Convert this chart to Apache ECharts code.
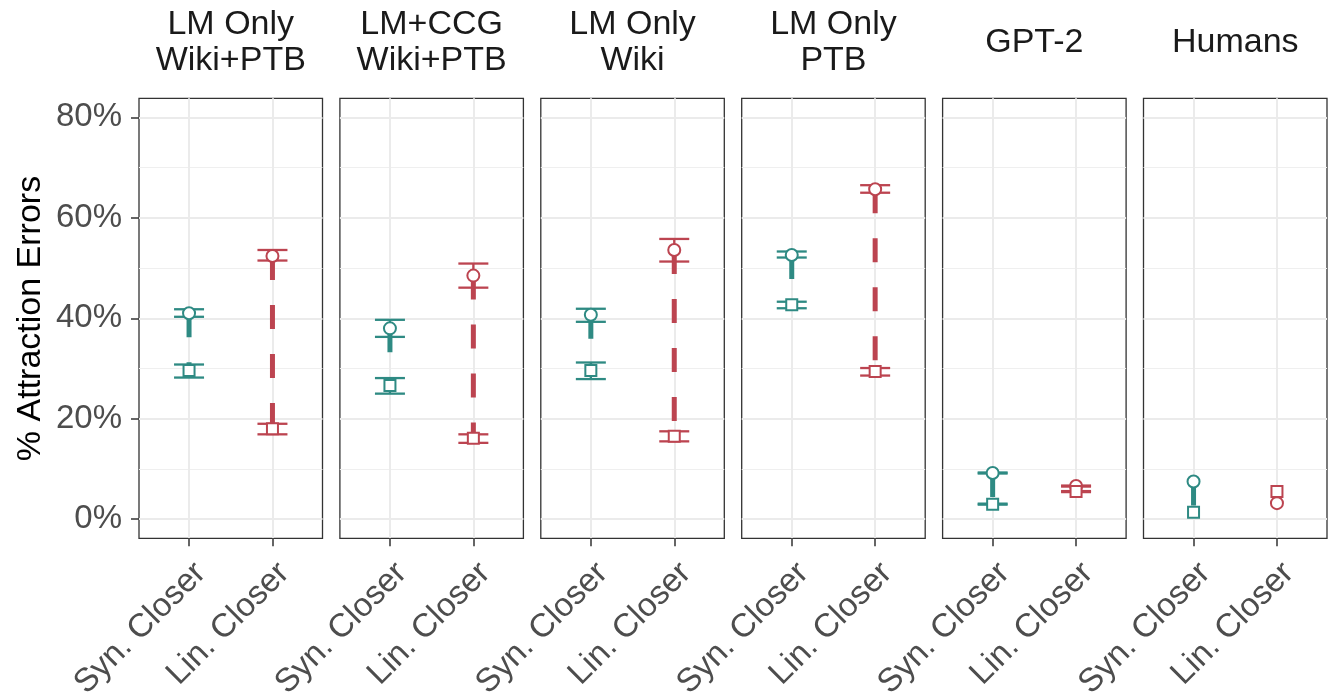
<!DOCTYPE html>
<html><head><meta charset="utf-8">
<script src="https://cdn.jsdelivr.net/npm/echarts@6/dist/echarts.min.js"></script>
<style>html,body{margin:0;padding:0;background:#fff}#c{width:1336px;height:698px}</style>
</head><body><div id="c"></div>
<script>
// ---- data ----
const facets = ['LM Only\nWiki+PTB', 'LM+CCG\nWiki+PTB', 'LM Only\nWiki', 'LM Only\nPTB', 'GPT-2', 'Humans'];
const categories = ['Syn. Closer', 'Lin. Closer'];
const yTicks = [0, 20, 40, 60, 80];
const yMinorTicks = [10, 30, 50, 70];
// Syn. Closer
const synCircle   = [41.0, 38.0, 40.7, 52.6, 9.2, 7.5];
const synCircleLo = [40.3, 36.3, 39.3, 52.1, 9.1, null];
const synCircleHi = [41.8, 39.7, 41.9, 53.3, 9.3, null];
const synSquare   = [29.6, 26.6, 29.6, 42.7, 3.0, 1.4];
const synSquareLo = [28.2, 25.0, 27.9, 42.0, 2.9, null];
const synSquareHi = [30.8, 28.1, 31.2, 43.3, 3.1, null];
// Lin. Closer
const linCircle   = [52.4, 48.5, 53.6, 65.7, 6.6, 3.2];
const linCircleLo = [51.5, 46.1, 51.3, 65.0, 6.5, null];
const linCircleHi = [53.6, 50.9, 55.8, 66.5, 6.7, null];
const linSquare   = [18.0, 16.1, 16.5, 29.4, 5.5, 5.5];
const linSquareLo = [16.9, 15.2, 15.5, 28.6, 5.4, null];
const linSquareHi = [19.0, 16.9, 17.5, 30.1, 5.6, null];

// ---- style ----
const COLORS = ['#2e8a83', '#bc4450'];
const FONT = '"Liberation Sans", Arial, sans-serif';
const PANEL_LEFT0 = 139, PANEL_PITCH = 200.9, PANEL_W = 183.5, PANEL_TOP = 98.3, PANEL_H = 440;
const Y_MIN = -3.8, Y_MAX = 83.8;

const grids = [], xAxes = [], yAxes = [], series = [], graphics = [];

function renderErr(params, api) {
  const x = api.value(0), lo = api.value(1), hi = api.value(2), ci = api.value(3);
  const pLo = api.coord([x, lo]), pHi = api.coord([x, hi]);
  const hw = 15;
  const style = { stroke: COLORS[ci], lineWidth: 2.3, fill: null };
  return { type: 'group', children: [
    { type: 'line', shape: { x1: pLo[0], y1: pLo[1], x2: pHi[0], y2: pHi[1] }, style: style },
    { type: 'line', shape: { x1: pLo[0] - hw, y1: pLo[1], x2: pLo[0] + hw, y2: pLo[1] }, style: style },
    { type: 'line', shape: { x1: pHi[0] - hw, y1: pHi[1], x2: pHi[0] + hw, y2: pHi[1] }, style: style }
  ]};
}

facets.forEach(function (name, i) {
  const left = PANEL_LEFT0 + i * PANEL_PITCH;
  grids.push({ left: left, top: PANEL_TOP, width: PANEL_W, height: PANEL_H, show: true,
    borderColor: '#333333', borderWidth: 1.3, backgroundColor: 'transparent',
    containLabel: false, outerBoundsMode: 'none' });
  xAxes.push({ type: 'value', gridIndex: i, min: 0.4, max: 2.6, position: 'bottom',
    axisLine: { show: false, onZero: false },
    axisTick: { show: true, length: 8, customValues: [1, 2], lineStyle: { color: '#333333', width: 1.5 } },
    axisLabel: { show: true, customValues: [1, 2], rotate: 45, align: 'right', verticalAlign: 'top', margin: 18,
      formatter: function (v) { return categories[Math.round(v) - 1]; },
      color: '#4d4d4d', fontSize: 33, fontFamily: FONT },
    splitLine: { show: true, lineStyle: { color: '#ebebeb', width: 2 } }
  });
  // major y axis
  yAxes.push({ type: 'value', gridIndex: i, min: Y_MIN, max: Y_MAX, position: 'left',
    axisLine: { show: false, onZero: false },
    axisTick: { show: i === 0, length: 8, customValues: yTicks, lineStyle: { color: '#333333', width: 1.5 } },
    axisLabel: { show: i === 0, customValues: yTicks, margin: 17, formatter: function (v) { return v + '%'; },
      color: '#4d4d4d', fontSize: 33, fontFamily: FONT },
    splitLine: { show: true, lineStyle: { color: '#ebebeb', width: 2 } }
  });
  // minor y axis (grid lines only)
  yAxes.push({ type: 'value', gridIndex: i, min: Y_MIN, max: Y_MAX, position: 'left',
    axisLine: { show: false, onZero: false },
    axisTick: { show: false, customValues: yMinorTicks },
    axisLabel: { show: false, customValues: yMinorTicks },
    splitLine: { show: true, lineStyle: { color: '#efefef', width: 1.2 } }
  });
  const yi = i * 2;

  const circles = [synCircle[i], linCircle[i]];
  const squares = [synSquare[i], linSquare[i]];
  const cLo = [synCircleLo[i], linCircleLo[i]], cHi = [synCircleHi[i], linCircleHi[i]];
  const sLo = [synSquareLo[i], linSquareLo[i]], sHi = [synSquareHi[i], linSquareHi[i]];

  // connecting dashed lines
  [0, 1].forEach(function (c) {
    series.push({ type: 'line', xAxisIndex: i, yAxisIndex: yi, z: 1, silent: true,
      symbol: 'none', animation: false,
      data: [[c + 1, circles[c]], [c + 1, squares[c]]],
      lineStyle: { color: COLORS[c], width: 5, type: [24, 25], cap: 'butt' } });
  });
  // error bars
  const errData = [];
  [0, 1].forEach(function (c) {
    if (cLo[c] != null) errData.push([c + 1, cLo[c], cHi[c], c]);
    if (sLo[c] != null) errData.push([c + 1, sLo[c], sHi[c], c]);
  });
  series.push({ type: 'custom', xAxisIndex: i, yAxisIndex: yi, z: 2, silent: true, animation: false,
    renderItem: renderErr, encode: { x: 0, y: [1, 2] }, data: errData });
  // circles
  series.push({ type: 'scatter', xAxisIndex: i, yAxisIndex: yi, z: 3, silent: true, animation: false,
    symbol: 'circle', symbolSize: 12,
    data: [0, 1].map(function (c) { return { value: [c + 1, circles[c]], itemStyle: { borderColor: COLORS[c] } }; }),
    itemStyle: { color: '#ffffff', borderWidth: 2, opacity: 1 } });
  // squares
  series.push({ type: 'scatter', xAxisIndex: i, yAxisIndex: yi, z: 4, silent: true, animation: false,
    symbol: 'rect', symbolSize: 11,
    data: [0, 1].map(function (c) { return { value: [c + 1, squares[c]], itemStyle: { borderColor: COLORS[c] } }; }),
    itemStyle: { color: '#ffffff', borderWidth: 2, opacity: 1 } });

  graphics.push({ type: 'text', x: left + PANEL_W / 2, y: 42.5, silent: true,
    style: { text: name, align: 'center', verticalAlign: 'middle', fill: '#1a1a1a',
      font: '34px ' + FONT, lineHeight: 36 } });
});

graphics.push({ type: 'text', x: 31, y: 318.5, rotation: Math.PI / 2, silent: true,
  style: { text: '% Attraction Errors', align: 'center', verticalAlign: 'middle', fill: '#000000',
    font: '34px ' + FONT } });

const chart = echarts.init(document.getElementById('c'), null, { renderer: 'canvas' });
chart.setOption({
  animation: false,
  backgroundColor: '#ffffff',
  grid: grids, xAxis: xAxes, yAxis: yAxes, series: series, graphic: graphics
});
</script></body></html>
